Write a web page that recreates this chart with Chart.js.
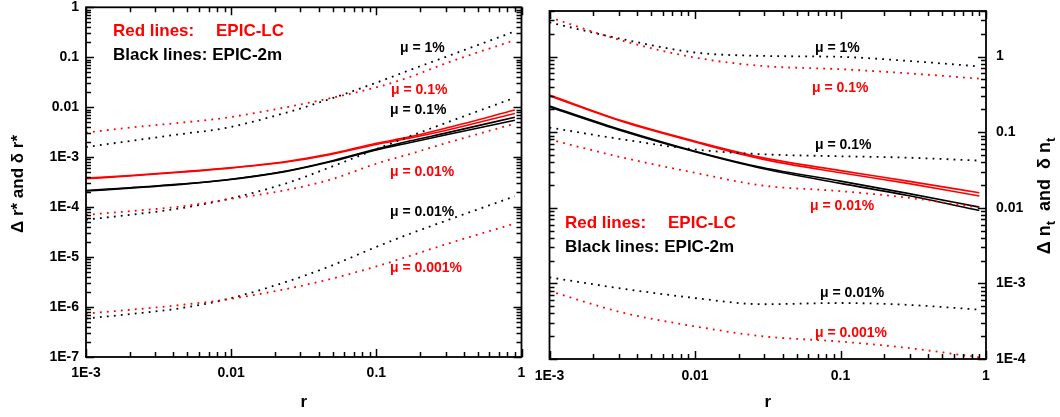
<!DOCTYPE html>
<html>
<head>
<meta charset="utf-8">
<script src="https://cdn.jsdelivr.net/npm/chart.js@4.4.0/dist/chart.umd.min.js"></script>
<style>
  html, body { margin: 0; padding: 0; background: #fff; }
  #wrap { position: relative; width: 1060px; height: 417px; }
  .panel { position: absolute; top: 0; width: 530px; height: 417px; }
</style>
</head>
<body>
<div id="wrap">
  <div class="panel" style="left:0"><canvas id="left" width="530" height="417"></canvas></div>
  <div class="panel" style="left:530px"><canvas id="right" width="530" height="417"></canvas></div>
</div>
<script>
// ---------------------------------------------------------------------------
// Data, left panel : Δr* and δr* against r
const rLeft = [0.001, 0.002, 0.0045, 0.009, 0.024, 0.0475, 0.1, 0.169, 0.31, 0.9];
const lcSolidA = [3.8e-4, 4.3e-4, 5.1e-4, 6.0e-4, 8.2e-4, 1.15e-3, 1.9e-3, 2.55e-3, 3.9e-3, 8.8e-3];
const lcSolidB = [3.7e-4, 4.2e-4, 5.0e-4, 5.9e-4, 8.0e-4, 1.12e-3, 1.8e-3, 2.4e-3, 3.5e-3, 7.5e-3];
const m2SolidA = [2.15e-4, 2.45e-4, 2.9e-4, 3.5e-4, 5.3e-4, 8.2e-4, 1.45e-3, 2.1e-3, 3.1e-3, 6.3e-3];
const m2SolidB = [2.1e-4, 2.4e-4, 2.85e-4, 3.45e-4, 5.2e-4, 8.0e-4, 1.4e-3, 1.95e-3, 2.85e-3, 5.5e-3];
const lcMu01L = [3.1e-3, 3.9e-3, 4.9e-3, 6.1e-3, 1.0e-2, 1.5e-2, 2.5e-2, 4.0e-2, 7.8e-2, 0.22];
const m2Mu1L = [1.6e-3, 2.1e-3, 2.9e-3, 3.8e-3, 7.8e-3, 1.45e-2, 3.1e-2, 5.5e-2, 0.105, 0.33];
const lcMu001L = [7.0e-5, 8.3e-5, 1.03e-4, 1.4e-4, 2.2e-4, 3.5e-4, 7.4e-4, 1.15e-3, 1.95e-3, 4.7e-3];
const m2Mu01L = [5.6e-5, 7.0e-5, 9.5e-5, 1.4e-4, 3.0e-4, 6.2e-4, 1.45e-3, 2.6e-3, 5.0e-3, 1.55e-2];
const lcMu0001L = [7.4e-7, 8.8e-7, 1.1e-6, 1.4e-6, 2.3e-6, 3.6e-6, 6.5e-6, 1.05e-5, 1.85e-5, 4.7e-5];
const m2Mu001L = [5.9e-7, 7.2e-7, 9.5e-7, 1.4e-6, 3.2e-6, 6.5e-6, 1.6e-5, 2.9e-5, 5.5e-5, 1.65e-4];

// Data, right panel : Δn_t and δn_t against r
const rRight = [0.001, 0.0032, 0.01, 0.029, 0.1, 0.29, 0.9];
const lcSolidAR = [0.31, 0.14, 0.076, 0.046, 0.031, 0.0225, 0.0158];
const lcSolidBR = [0.30, 0.137, 0.074, 0.044, 0.029, 0.021, 0.0143];
const m2SolidAR = [0.222, 0.106, 0.056, 0.034, 0.0225, 0.0155, 0.0102];
const m2SolidBR = [0.215, 0.103, 0.055, 0.033, 0.021, 0.0145, 0.0092];
const lcMu01R = [3.3, 1.61, 0.97, 0.75, 0.68, 0.60, 0.51];
const m2Mu1R = [2.82, 1.69, 1.13, 1.02, 0.99, 0.875, 0.74];
const lcMu001R = [0.080, 0.046, 0.029, 0.0197, 0.0166, 0.0136, 0.010];
const m2Mu01R = [0.115, 0.080, 0.059, 0.051, 0.048, 0.046, 0.042];
const lcMu0001R = [7.9e-4, 4.1e-4, 2.7e-4, 2.0e-4, 1.7e-4, 1.4e-4, 1.05e-4];
const m2Mu001R = [1.2e-3, 8.5e-4, 6.4e-4, 5.3e-4, 5.5e-4, 5.2e-4, 4.5e-4];

// Tick values and labels
const xTickVals = [0.001, 0.01, 0.1, 1];
const xTickLabels = ['1E-3', '0.01', '0.1', '1'];
const yTickValsL = [1e-7, 1e-6, 1e-5, 1e-4, 1e-3, 0.01, 0.1, 1];
const yTickLabelsL = ['1E-7', '1E-6', '1E-5', '1E-4', '1E-3', '0.01', '0.1', '1'];
const yTickValsR = [1e-4, 1e-3, 0.01, 0.1, 1];
const yTickLabelsR = ['1E-4', '1E-3', '0.01', '0.1', '1'];
// ---------------------------------------------------------------------------

const FONT = '"Liberation Sans", Arial, Helvetica, sans-serif';
const RED = '#ff0000';
const BLACK = '#000000';

function line(xs, ys, color, dotted) {
    return {
        data: xs.map((x, i) => ({ x: x, y: ys[i] })),
        borderColor: color,
        borderWidth: dotted ? 1.8 : 1.6,
        borderDash: dotted ? [1.8, 5.2] : [],
        borderCapStyle: 'butt',
        pointRadius: 0,
        cubicInterpolationMode: 'monotone',
        fill: false
    };
}

// list of decade and sub-decade positions (1..9 x 10^n) inside a log scale
function logPositions(scale) {
    const out = [];
    const lo = Math.floor(Math.log10(scale.min) + 1e-9);
    const hi = Math.ceil(Math.log10(scale.max) - 1e-9);
    for (let d = lo; d <= hi; d++) {
        for (let k = 1; k <= 9; k++) {
            const v = k * Math.pow(10, d);
            if (v < scale.min * 0.999 || v > scale.max * 1.001) continue;
            out.push({ p: Math.round(scale.getPixelForValue(v)) + 0.5, major: k === 1 });
        }
    }
    return out;
}

// frame + inward major/minor ticks on all four sides
const framePlugin = {
    id: 'frame',
    afterDraw(chart) {
        const ctx = chart.ctx;
        const a = chart.chartArea;
        const xs = logPositions(chart.scales.x);
        const ys = logPositions(chart.scales.y);
        ctx.save();
        ctx.setLineDash([]);
        ctx.strokeStyle = '#000';
        ctx.lineWidth = 1.5;
        ctx.beginPath();
        xs.forEach(t => {
            const len = t.major ? 8 : 5;
            ctx.moveTo(t.p, a.bottom);
            ctx.lineTo(t.p, a.bottom - len);
            ctx.moveTo(t.p, a.top);
            ctx.lineTo(t.p, a.top + len);
        });
        ys.forEach(t => {
            const len = t.major ? 8 : 5;
            ctx.moveTo(a.left, t.p);
            ctx.lineTo(a.left + len, t.p);
            ctx.moveTo(a.right, t.p);
            ctx.lineTo(a.right - len, t.p);
        });
        ctx.stroke();
        ctx.lineWidth = 1.8;
        ctx.strokeRect(a.left, a.top, a.right - a.left, a.bottom - a.top);
        ctx.restore();
    }
};

// annotations: legend text, μ labels, y title
const textPlugin = {
    id: 'texts',
    afterDatasetsDraw(chart, args, opts) {
        const ctx = chart.ctx;
        ctx.save();
        ctx.textBaseline = 'middle';
        ctx.textAlign = 'left';
        (opts.items || []).forEach(it => {
            ctx.font = 'bold ' + it.size + 'px ' + FONT;
            ctx.fillStyle = it.color;
            ctx.fillText(it.text, it.x, it.y);
        });
        if (opts.title) {
            const t = opts.title;
            ctx.translate(t.x, t.y);
            ctx.rotate(-Math.PI / 2);
            const main = 'bold ' + t.size + 'px ' + FONT;
            const sub = 'bold ' + Math.round(t.size * 0.7) + 'px ' + FONT;
            let total = 0;
            t.parts.forEach(p => { ctx.font = p.sub ? sub : main; total += ctx.measureText(p.s).width; });
            let x = -total / 2;
            ctx.fillStyle = '#000';
            t.parts.forEach(p => {
                ctx.font = p.sub ? sub : main;
                ctx.fillText(p.s, x, p.sub ? t.size * 0.35 : 0);
                x += ctx.measureText(p.s).width;
            });
        }
        ctx.restore();
    }
};

function makeChart(id, cfg) {
    return new Chart(document.getElementById(id), {
        type: 'line',
        data: { datasets: cfg.datasets },
        options: {
            responsive: false,
            animation: false,
            devicePixelRatio: 1,
            layout: { padding: cfg.padding },
            plugins: {
                legend: { display: false },
                tooltip: { enabled: false },
                texts: { items: cfg.texts, title: cfg.title }
            },
            scales: {
                x: {
                    type: 'logarithmic',
                    position: 'bottom',
                    min: 0.001, max: 1,
                    grid: { display: false, drawTicks: false },
                    border: { display: false },
                    afterBuildTicks: s => { s.ticks = xTickVals.map(v => ({ value: v })); },
                    afterFit: s => { s.height = cfg.xHeight; s.paddingLeft = 0; s.paddingRight = 0; },
                    ticks: {
                        color: '#000', padding: cfg.xPad, maxRotation: 0, autoSkip: false,
                        font: { family: FONT, size: 14, weight: 'bold' },
                        callback: (v, i) => xTickLabels[i]
                    },
                    title: {
                        display: true, text: 'r', color: '#000',
                        font: { family: FONT, size: 17, weight: 'bold' },
                        padding: { top: 0, bottom: 4 }
                    }
                },
                y: {
                    type: 'logarithmic',
                    position: cfg.yPos,
                    min: cfg.yMin, max: cfg.yMax,
                    grid: { display: false, drawTicks: false },
                    border: { display: false },
                    afterBuildTicks: s => { s.ticks = cfg.yVals.map(v => ({ value: v })); },
                    afterFit: s => { s.width = cfg.yWidth; s.paddingTop = 0; s.paddingBottom = 0; },
                    ticks: {
                        color: '#000', padding: cfg.yPad, autoSkip: false,
                        font: { family: FONT, size: 14, weight: 'bold' },
                        callback: (v, i) => cfg.yLabels[i]
                    }
                }
            }
        },
        plugins: [framePlugin, textPlugin]
    });
}

makeChart('left', {
    datasets: [
        line(rLeft, lcMu01L, RED, true),
        line(rLeft, m2Mu1L, BLACK, true),
        line(rLeft, lcMu001L, RED, true),
        line(rLeft, m2Mu01L, BLACK, true),
        line(rLeft, lcMu0001L, RED, true),
        line(rLeft, m2Mu001L, BLACK, true),
        line(rLeft, m2SolidA, BLACK, false),
        line(rLeft, m2SolidB, BLACK, false),
        line(rLeft, lcSolidA, RED, false),
        line(rLeft, lcSolidB, RED, false)
    ],
    padding: { left: 0, right: 8.5, top: 7.3, bottom: 0 },
    xHeight: 60, xPad: 8,
    yPos: 'left', yMin: 1e-7, yMax: 1, yVals: yTickValsL, yLabels: yTickLabelsL,
    yWidth: 86, yPad: 7,
    texts: [
        { text: 'Red lines:', x: 113, y: 31, color: RED, size: 17 },
        { text: 'EPIC-LC', x: 216, y: 31, color: RED, size: 17 },
        { text: 'Black lines: EPIC-2m', x: 113, y: 55, color: BLACK, size: 17 },
        { text: 'μ = 1%', x: 400, y: 48, color: BLACK, size: 14 },
        { text: 'μ = 0.1%', x: 391, y: 90, color: RED, size: 14 },
        { text: 'μ = 0.1%', x: 390, y: 110, color: BLACK, size: 14 },
        { text: 'μ = 0.01%', x: 390, y: 172, color: RED, size: 14 },
        { text: 'μ = 0.01%', x: 390, y: 212, color: BLACK, size: 14 },
        { text: 'μ = 0.001%', x: 390, y: 268, color: RED, size: 14 }
    ],
    title: { x: 18, y: 184, size: 17, parts: [{ s: 'Δ r* and δ r*' }] }
});

makeChart('right', {
    datasets: [
        line(rRight, lcMu01R, RED, true),
        line(rRight, m2Mu1R, BLACK, true),
        line(rRight, lcMu001R, RED, true),
        line(rRight, m2Mu01R, BLACK, true),
        line(rRight, lcMu0001R, RED, true),
        line(rRight, m2Mu001R, BLACK, true),
        line(rRight, m2SolidAR, BLACK, false),
        line(rRight, m2SolidBR, BLACK, false),
        line(rRight, lcSolidAR, RED, false),
        line(rRight, lcSolidBR, RED, false)
    ],
    padding: { left: 19.5, right: 0, top: 11, bottom: 0 },
    xHeight: 58, xPad: 9,
    yPos: 'right', yMin: 1e-4, yMax: 4, yVals: yTickValsR, yLabels: yTickLabelsR,
    yWidth: 74, yPad: 10,
    texts: [
        { text: 'Red lines:', x: 35, y: 223, color: RED, size: 17 },
        { text: 'EPIC-LC', x: 138, y: 223, color: RED, size: 17 },
        { text: 'Black lines: EPIC-2m', x: 35, y: 247, color: BLACK, size: 17 },
        { text: 'μ = 1%', x: 285, y: 48, color: BLACK, size: 14 },
        { text: 'μ = 0.1%', x: 282, y: 88, color: RED, size: 14 },
        { text: 'μ = 0.1%', x: 285, y: 145, color: BLACK, size: 14 },
        { text: 'μ = 0.01%', x: 280, y: 206, color: RED, size: 14 },
        { text: 'μ = 0.01%', x: 290, y: 293, color: BLACK, size: 14 },
        { text: 'μ = 0.001%', x: 285, y: 333, color: RED, size: 14 }
    ],
    title: {
        x: 515, y: 196, size: 18,
        parts: [{ s: 'Δ n' }, { s: 't', sub: true }, { s: '  and  δ n' }, { s: 't', sub: true }]
    }
});
</script>
</body>
</html>
